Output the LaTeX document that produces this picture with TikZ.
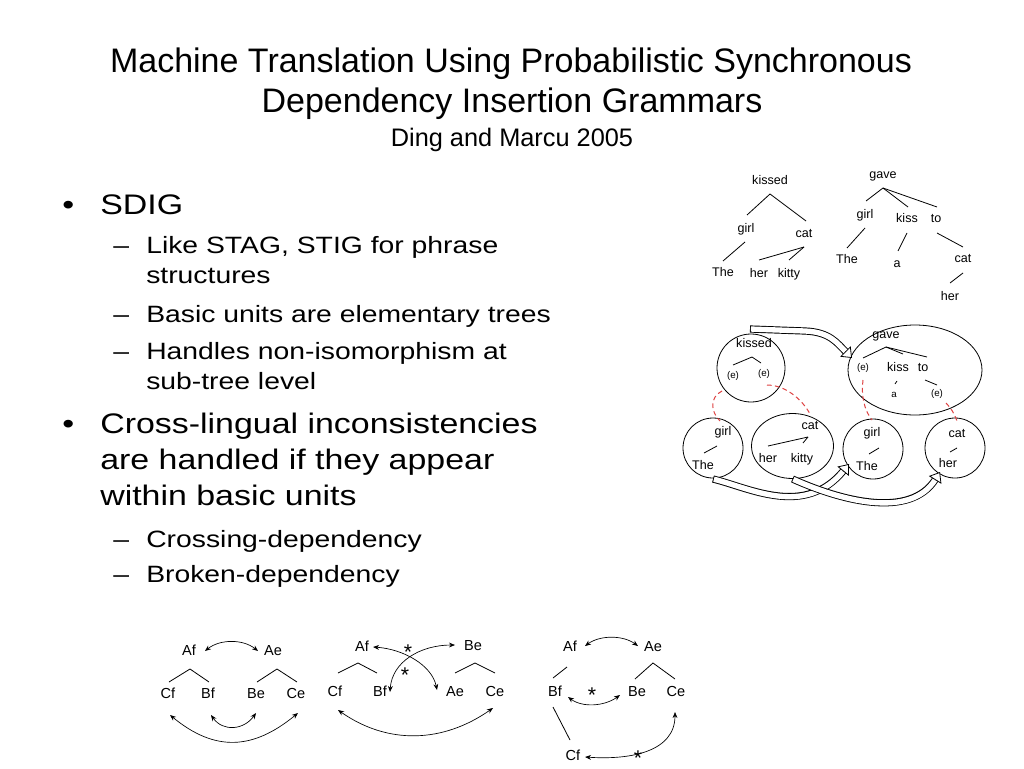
\documentclass[tikz,border=0pt]{standalone}
\usepackage{fontspec}
\setmainfont{Liberation Sans}
\newfontfamily\bodyfont[FakeStretch=1.2]{Liberation Sans}
\usetikzlibrary{arrows.meta,shapes.geometric}
\definecolor{rd}{RGB}{222,66,66}
\begin{document}
\begin{tikzpicture}[x=0.75pt,y=-0.75pt,
 titlef/.style={font=\fontsize{25.5pt}{30pt}\selectfont, inner sep=0, anchor=base},
 subf/.style={font=\fontsize{19pt}{22pt}\selectfont, inner sep=0, anchor=base},
 lone/.style={font=\bodyfont\fontsize{21.2pt}{25pt}\selectfont, inner sep=0, anchor=base west},
 ltwo/.style={font=\bodyfont\fontsize{17.7pt}{21pt}\selectfont, inner sep=0, anchor=base west},
 tw/.style={font=\fontsize{9.4pt}{11pt}\selectfont, inner sep=1pt, text height=7pt, text depth=2pt},
 tws/.style={font=\fontsize{7.3pt}{9pt}\selectfont, inner sep=1pt, text height=5.5pt, text depth=1.6pt},
 dw/.style={font=\fontsize{10.9pt}{13pt}\selectfont, inner sep=1pt, text height=8pt, text depth=2.5pt},
 starf/.style={font=\fontsize{16pt}{16pt}\selectfont, inner sep=0, anchor=base},
 treeln/.style={line width=0.6pt},
 unit/.style={draw, line width=0.6pt, inner sep=0},
 reddash/.style={draw=rd, line width=0.75pt, dash pattern=on 3.5pt off 2.5pt},
 fatband/.style={draw=black, line width=5.4pt, shorten >=6pt,
   postaction={draw=white, line width=4pt, shorten <=0.7pt, shorten >=6.5pt}},
 fattip/.style={line width=0.6pt, -{Triangle[length=7pt,width=11pt,fill=white]}},
 darr/.style={line width=0.5pt, arrows={Stealth[length=4.5pt,width=3.6pt]-Stealth[length=4.5pt,width=3.6pt]}}
]
\fill[white] (0,0) rectangle (1024,768);
\path[use as bounding box] (0,0) rectangle (1024,768);

% title
\node[titlef] (t1) at (511,72) {Machine Translation Using Probabilistic Synchronous};
\node[titlef] (t2) at (512,112) {Dependency Insertion Grammars};
\node[subf] (t3) at (512,146) {Ding and Marcu 2005};

% bullets
\node[lone] (b1) at (62,214) {•};
\node[lone] (l1) at (100,214) {SDIG};
\node[ltwo] (d1) at (113,253) {–};
\node[ltwo] (l2) at (146,253) {Like STAG, STIG for phrase};
\node[ltwo] (l2b) at (146,283) {structures};
\node[ltwo] (d2) at (113,322) {–};
\node[ltwo] (l3) at (146,322) {Basic units are elementary trees};
\node[ltwo] (d3) at (113,359) {–};
\node[ltwo] (l4) at (146,359) {Handles non-isomorphism at};
\node[ltwo] (l4b) at (146,389) {sub-tree level};
\node[lone] (b2) at (62,433) {•};
\node[lone] (l5) at (100,433) {Cross-lingual inconsistencies};
\node[lone] (l5b) at (100,469) {are handled if they appear};
\node[lone] (l5c) at (100,505) {within basic units};
\node[ltwo] (d4) at (113,547) {–};
\node[ltwo] (l6) at (146,547) {Crossing-dependency};
\node[ltwo] (d5) at (113,582) {–};
\node[ltwo] (l7) at (146,582) {Broken-dependency};

% top tree 1
\node[tw] (k1) at (770,181) {kissed};
\node[tw] (g1) at (746,229) {girl};
\node[tw] (c1) at (804,234) {cat};
\node[tw] (th1) at (723,273) {The};
\node[tw] (h1) at (759,274) {her};
\node[tw] (y1) at (789,274) {kitty};
\draw[treeln] ([shift={(0,13)}]k1.center) -- ([shift={(1,-14)}]g1.center);
\draw[treeln] ([shift={(0,13)}]k1.center) -- ([shift={(2,-13)}]c1.center);
\draw[treeln] ([shift={(-1,13)}]g1.center) -- ([shift={(0,-12)}]th1.center);
\draw[treeln] ([shift={(0,13)}]c1.center) -- ([shift={(0,-14)}]h1.center);
\draw[treeln] ([shift={(0,13)}]c1.center) -- ([shift={(0,-14)}]y1.center);

% top tree 2
\node[tw] (gv) at (883,175) {gave};
\node[tw] (g2) at (865,215) {girl};
\node[tw] (ks) at (907,219) {kiss};
\node[tw] (to) at (936,219) {to};
\node[tw] (th2) at (847,260) {The};
\node[tw] (a2) at (897,264) {a};
\node[tw] (c2) at (963,259) {cat};
\node[tw] (h2) at (950,297) {her};
\draw[treeln] ([shift={(0,13)}]gv.center) -- ([shift={(1,-14)}]g2.center);
\draw[treeln] ([shift={(0,13)}]gv.center) -- ([shift={(1,-12)}]ks.center);
\draw[treeln] ([shift={(0,13)}]gv.center) -- ([shift={(1,-12)}]to.center);
\draw[treeln] ([shift={(0,13)}]g2.center) -- ([shift={(0,-12)}]th2.center);
\draw[treeln] ([shift={(0,14)}]ks.center) -- ([shift={(1,-13)}]a2.center);
\draw[treeln] ([shift={(1,14)}]to.center) -- ([shift={(0,-12)}]c2.center);
\draw[treeln] ([shift={(0,14)}]c2.center) -- ([shift={(0,-14)}]h2.center);

% middle diagram: units
\node[unit, circle, minimum size=51pt] (uK) at (751,368) {};
\node[unit, ellipse, minimum width=100.5pt, minimum height=67.5pt] (uG) at (915,370) {};
\node[unit, circle, minimum size=45pt] (uG1) at (713,448) {};
\node[unit, ellipse, minimum width=61.5pt, minimum height=48.75pt] (uC1) at (792.5,446) {};
\node[unit, circle, minimum size=45pt] (uG2) at (873,449) {};
\node[unit, circle, minimum size=45pt] (uC2) at (955,448) {};

% kissed unit
\node[tw] (mk) at (754,344) {kissed};
\node[tws] (me1) at (733,376) {(e)};
\node[tws] (me2) at (764,374) {(e)};
\draw[treeln] ([shift={(0,-11)}]me1.center) -- ([shift={(-2,13)}]mk.center) -- ([shift={(-3,-11)}]me2.center);

% gave unit
\node[tw] (mg) at (886,335) {gave};
\node[tws] (mge) at (863,368) {(e)};
\node[tw] (mks) at (898,368) {kiss};
\node[tw] (mto) at (923,368) {to};
\node[tws] (ma) at (894,395) {a};
\node[tws] (mge2) at (937,394) {(e)};
\draw[treeln] ([shift={(0,12)}]mg.center) -- ([shift={(0,-10)}]mge.center);
\draw[treeln] ([shift={(0,12)}]mg.center) -- ([shift={(5,-14)}]mks.center);
\draw[treeln] ([shift={(0,12)}]mg.center) -- ([shift={(4,-11)}]mto.center);
\draw[treeln] ([shift={(-1,13)}]mks.center) -- ([shift={(1,-11)}]ma.center);
\draw[treeln] ([shift={(2,12)}]mto.center) -- ([shift={(0,-9)}]mge2.center);

% girl unit (left)
\node[tw] (mg1) at (723,432) {girl};
\node[tw] (mt1) at (703,466) {The};
\draw[treeln] ([shift={(1,-13)}]mt1.center) -- ([shift={(-6,14)}]mg1.center);

% cat unit (left)
\node[tw] (mc1) at (810,426) {cat};
\node[tw] (mh1) at (768,459) {her};
\node[tw] (my1) at (802,459) {kitty};
\draw[treeln] ([shift={(0,-13)}]mh1.center) -- ([shift={(-2,11)}]mc1.center);
\draw[treeln] ([shift={(1,-16)}]my1.center) -- ([shift={(-2,11)}]mc1.center);

% girl unit (right)
\node[tw] (mg2) at (872,433) {girl};
\node[tw] (mt2) at (867,467) {The};
\draw[treeln] ([shift={(2,-13)}]mt2.center) -- ([shift={(7,15)}]mg2.center);

% cat unit (right)
\node[tw] (mc2) at (957,434) {cat};
\node[tw] (mh2) at (948,464) {her};
\draw[treeln] ([shift={(2,-12)}]mh2.center) -- ([shift={(0,14)}]mc2.center);

% red dashed links
\draw[reddash] ([shift={(-29,23)}]uK.center) .. controls +(-12,6) and +(-10,-10) .. ([shift={(7,-27)}]uG1.center);
\draw[reddash] ([shift={(16,17)}]uK.center) .. controls +(18,0) and +(-8,-15) .. ([shift={(17.5,-32)}]uC1.center);
\draw[reddash] ([shift={(0,12)}]mge.center) .. controls +(-2,15) and +(-8,-10) .. ([shift={(-1,-29)}]uG2.center);
\draw[reddash] ([shift={(9,9)}]mge2.center) .. controls +(5,5) and +(-3,-8) .. ([shift={(2,-27)}]uC2.center);

% fat arrows
\draw[fatband] ([shift={(-1,-39)}]uK.center) -- ++(55,2) .. controls +(25,1) and +(-15,-15) .. ([shift={(-63,-12)}]uG.center);
\draw[fattip] ([shift={(-69.7,-18.7)}]uG.center) -- ([shift={(-63,-12)}]uG.center);
\draw[fatband] ([shift={(0,31)}]uG1.center) .. controls +(37,9) and +(-44,54) .. ([shift={(-24,15)}]uG2.center);
\draw[fattip] ([shift={(-30,22.4)}]uG2.center) -- ([shift={(-24,15)}]uG2.center);
\draw[fatband] ([shift={(0,33)}]uC1.center) .. controls +(47,21) and +(-30,48) .. ([shift={(-15,24)}]uC2.center);
\draw[fattip] ([shift={(-20,32.1)}]uC2.center) -- ([shift={(-15,24)}]uC2.center);

% bottom diagram A
\node[dw] (aAf) at (189,652) {Af};
\node[dw] (aAe) at (273,652) {Ae};
\node[dw] (aCf) at (168,695) {Cf};
\node[dw] (aBf) at (208,695) {Bf};
\node[dw] (aBe) at (256,695) {Be};
\node[dw] (aCe) at (296,695) {Ce};
\draw[treeln] ([shift={(1,-13)}]aCf.center) -- ([shift={(1,17)}]aAf.center) -- ([shift={(1,-13)}]aBf.center);
\draw[treeln] ([shift={(1,-13)}]aBe.center) -- ([shift={(4,17)}]aAe.center) -- ([shift={(1,-13)}]aCe.center);
\draw[darr] ([shift={(16,-1)}]aAf.center) .. controls +(15,-12) and +(-15,-12) .. ([shift={(-15,-1)}]aAe.center);
\draw[darr] ([shift={(3,20)}]aBf.center) .. controls +(12,17) and +(-12,17) .. ([shift={(0,18)}]aBe.center);
\draw[darr] ([shift={(2,20)}]aCf.center) .. controls +(45,37) and +(-45,37) .. ([shift={(2,18)}]aCe.center);

% bottom diagram B
\node[dw] (bAf) at (362,648) {Af};
\node[dw] (bBe) at (473,647) {Be};
\node[dw] (bCf) at (335,693) {Cf};
\node[dw] (bBf) at (380,693) {Bf};
\node[dw] (bAe) at (455,693) {Ae};
\node[dw] (bCe) at (495,693) {Ce};
\draw[treeln] ([shift={(3,-20)}]bCf.center) -- ([shift={(-4,15)}]bAf.center) -- ([shift={(-3,-20)}]bBf.center);
\draw[treeln] ([shift={(0,-20)}]bAe.center) -- ([shift={(2,16)}]bBe.center) -- ([shift={(0,-20)}]bCe.center);
\draw[darr] ([shift={(11,-1)}]bAf.center) .. controls +(30,2) and +(-5,-25) .. ([shift={(-18,-3)}]bAe.center);
\draw[darr] ([shift={(-18,-2)}]bBe.center) .. controls +(-35,0) and +(2,-30) .. ([shift={(10,-1)}]bBf.center);
\draw[darr] ([shift={(3,17)}]bCf.center) .. controls +(50,35) and +(-50,35) .. ([shift={(-2,15)}]bCe.center);
\node[starf] (bs1) at (408,659) {*};
\node[starf] (bs2) at (405,682) {*};

% bottom diagram C
\node[dw] (cAf) at (570,648) {Af};
\node[dw] (cAe) at (653,648) {Ae};
\node[dw] (cBf) at (555,693) {Bf};
\node[dw] (cBe) at (637,693) {Be};
\node[dw] (cCe) at (676,693) {Ce};
\node[dw] (cCf) at (573,757) {Cf};
\draw[treeln] ([shift={(-3,19)}]cAf.center) -- ([shift={(-2,-15)}]cBf.center);
\draw[treeln] ([shift={(-2,14)}]cBf.center) -- ([shift={(-3,-17)}]cCf.center);
\draw[treeln] ([shift={(-2,-14)}]cBe.center) -- ([shift={(0,15)}]cAe.center) -- ([shift={(-1,-14)}]cCe.center);
\draw[darr] ([shift={(15,-2)}]cAf.center) .. controls +(15,-11) and +(-15,-11) .. ([shift={(-15,-2)}]cAe.center);
\draw[darr] ([shift={(13,4)}]cBf.center) .. controls +(15,11) and +(-15,11) .. ([shift={(-17,2)}]cBe.center);
\draw[darr] ([shift={(12,0)}]cCf.center) .. controls +(45,3) and +(0,40) .. ([shift={(-1,19)}]cCe.center);
\node[starf] (cs1) at (592,702) {*};
\node[starf] (cs2) at (638,765) {*};
\end{tikzpicture}
\end{document}
